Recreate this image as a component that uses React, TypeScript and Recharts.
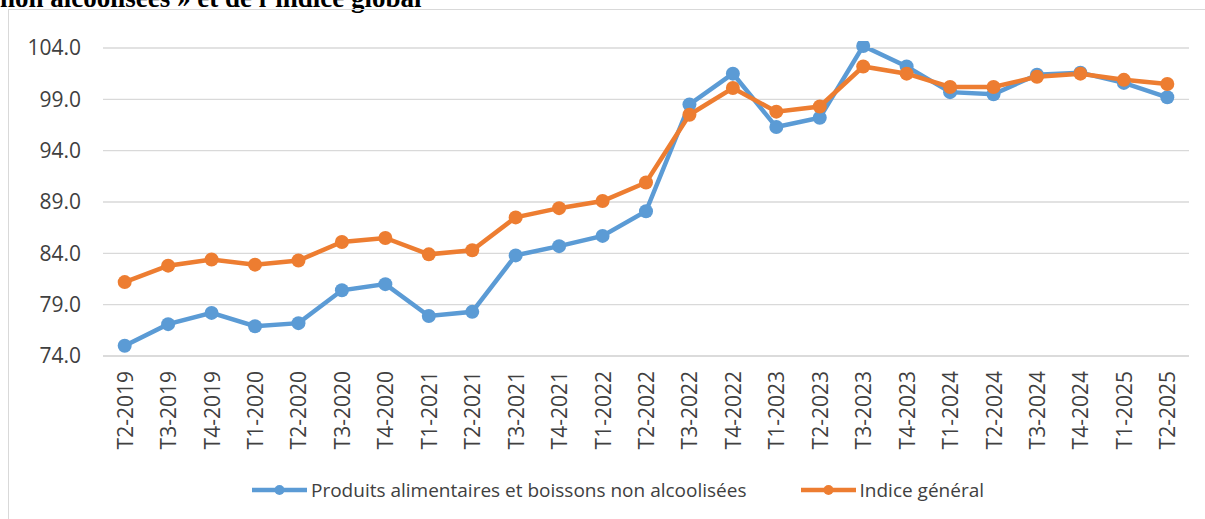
import { LineChart, Line, XAxis, YAxis, CartesianGrid, Legend } from "recharts";

const trimestres = [
  "T2-2019", "T3-2019", "T4-2019",
  "T1-2020", "T2-2020", "T3-2020", "T4-2020",
  "T1-2021", "T2-2021", "T3-2021", "T4-2021",
  "T1-2022", "T2-2022", "T3-2022", "T4-2022",
  "T1-2023", "T2-2023", "T3-2023", "T4-2023",
  "T1-2024", "T2-2024", "T3-2024", "T4-2024",
  "T1-2025", "T2-2025",
];

const alimentaires = [
  75.0, 77.1, 78.2,
  76.9, 77.2, 80.4, 81.0,
  77.9, 78.3, 83.8, 84.7,
  85.7, 88.1, 98.5, 101.5,
  96.3, 97.2, 104.2, 102.2,
  99.7, 99.5, 101.4, 101.6,
  100.6, 99.2,
];

const indiceGeneral = [
  81.2, 82.8, 83.4,
  82.9, 83.3, 85.1, 85.5,
  83.9, 84.3, 87.5, 88.4,
  89.1, 90.9, 97.5, 100.1,
  97.8, 98.3, 102.2, 101.5,
  100.2, 100.2, 101.2, 101.5,
  100.9, 100.5,
];

const yTicks = [74, 79, 84, 89, 94, 99, 104];

const BLEU = "#5b9bd5";
const ORANGE = "#ed7d31";
const GRILLE = "#d9d9d9";
const TEXTE = "#404040";
const POLICE = "'Open Sans', sans-serif";

const series = [
  { key: "alimentaires", nom: "Produits alimentaires et boissons non alcoolisées", couleur: BLEU },
  { key: "general", nom: "Indice général", couleur: ORANGE },
];

const data = trimestres.map((t, i) => ({
  t,
  alimentaires: alimentaires[i],
  general: indiceGeneral[i],
}));

function TickTrimestre({ x, y, payload }: any) {
  return (
    <g transform={`translate(${x},${y})`}>
      <text
        transform="rotate(-90)"
        x={-15}
        y={0}
        textAnchor="end"
        dominantBaseline="central"
        fill={TEXTE}
        fontSize={21}
        fontFamily={POLICE}
      >
        {payload.value}
      </text>
    </g>
  );
}

function Legende() {
  return (
    <div
      style={{
        height: 40,
        display: "flex",
        justifyContent: "center",
        alignItems: "center",
        gap: 54,
        paddingLeft: 31,
        fontFamily: POLICE,
        fontSize: 19,
        color: TEXTE,
      }}
    >
      {series.map((s) => (
        <div key={s.key} style={{ display: "flex", alignItems: "center", gap: 4 }}>
          <svg width={55} height={14}>
            <line x1={0} y1={7} x2={55} y2={7} stroke={s.couleur} strokeWidth={4.5} />
            <circle cx={27.5} cy={7} r={5} fill={s.couleur} />
          </svg>
          <span style={{ whiteSpace: "nowrap" }}>{s.nom}</span>
        </div>
      ))}
    </div>
  );
}

export default function App() {
  return (
    <div style={{ position: "fixed", left: 0, top: 0, width: 1205, height: 519, overflow: "hidden", background: "#fff" }}>
      {/* fin du titre, coupé par le haut de l'image */}
      <div
        style={{
          position: "absolute",
          left: 0,
          top: -15,
          fontFamily: "'Liberation Serif', serif",
          fontWeight: 700,
          fontSize: 27,
          lineHeight: "27px",
          whiteSpace: "nowrap",
          color: "#000",
        }}
      >
        non alcoolisées » et de l’indice global
      </div>
      <div
        style={{
          position: "absolute",
          left: 8,
          top: 9,
          width: 1300,
          height: 600,
          border: `1px solid ${GRILLE}`,
        }}
      />
      <div style={{ position: "absolute", left: 0, top: 0 }}>
        <LineChart width={1205} height={519} data={data} margin={{ top: 48, right: 16, left: 0, bottom: 23 }}>
          <CartesianGrid vertical={false} stroke={GRILLE} strokeWidth={1.3} />
          <XAxis
            dataKey="t"
            interval={0}
            height={100}
            padding={{ left: 21.7, right: 21.7 }}
            tickSize={0}
            tickMargin={0}
            axisLine={{ stroke: GRILLE, strokeWidth: 1.3 }}
            tickLine={false}
            tick={<TickTrimestre />}
          />
          <YAxis
            width={103}
            domain={[74, 104]}
            ticks={yTicks}
            allowDataOverflow
            axisLine={false}
            tickLine={false}
            tickSize={0}
            tickMargin={22}
            tickFormatter={(v: number) => v.toFixed(1)}
            tick={{ fill: TEXTE, fontSize: 21, fontFamily: POLICE }}
          />
          <Legend
            verticalAlign="bottom"
            content={<Legende />}
            wrapperStyle={{ top: 470, bottom: "auto", left: 0, width: 1205 }}
          />
          {series.map((s) => (
            <Line
              key={s.key}
              type="linear"
              dataKey={s.key}
              name={s.nom}
              stroke={s.couleur}
              strokeWidth={4.5}
              dot={{ r: 7, fill: s.couleur, stroke: s.couleur, strokeWidth: 0, clipDot: false }}
              activeDot={false}
              isAnimationActive={false}
            />
          ))}
        </LineChart>
      </div>
    </div>
  );
}
